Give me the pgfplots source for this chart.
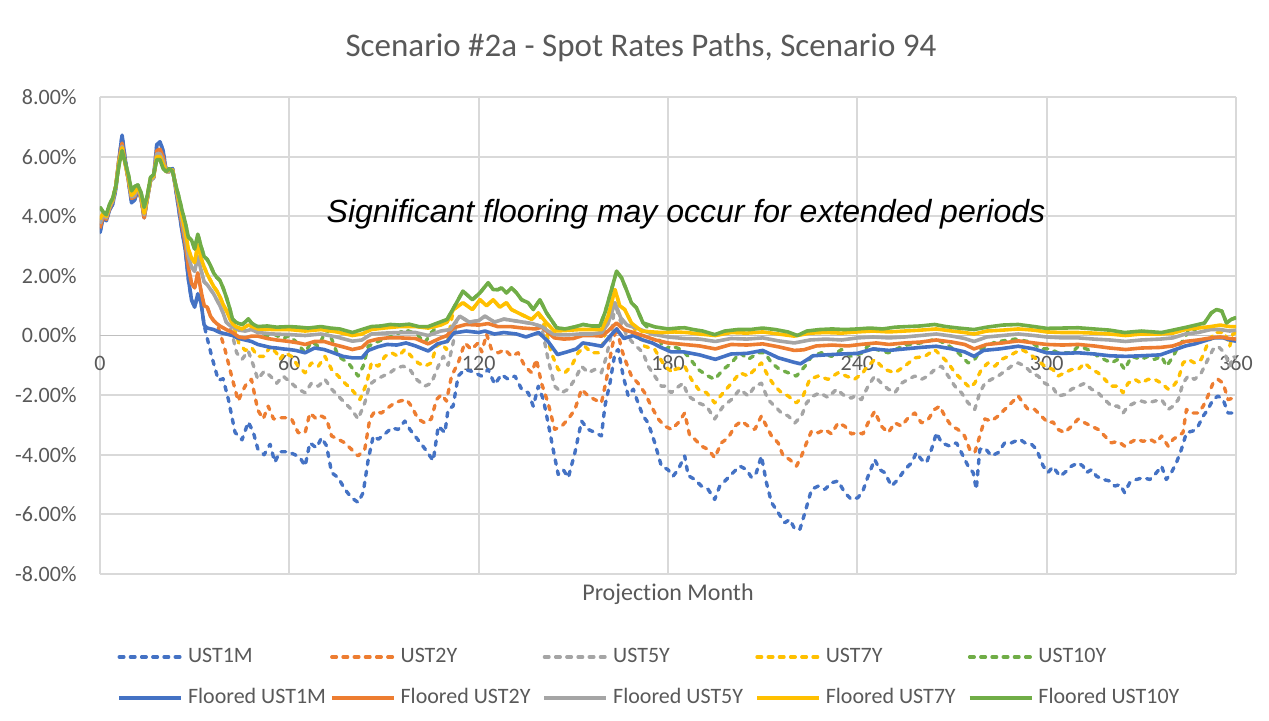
\documentclass[border=0pt]{standalone}
\usepackage{pgfplots}
\pgfplotsset{compat=1.18}
\usepackage{fontspec}
\setmainfont{Carlito}[Ligatures=NoCommon]
\newfontfamily\arialfont{Liberation Sans}
\definecolor{cblue}{HTML}{4472C4}
\definecolor{corange}{HTML}{ED7D31}
\definecolor{cgray}{HTML}{A5A5A5}
\definecolor{cyellow}{HTML}{FFC000}
\definecolor{cgreen}{HTML}{70AD47}
\definecolor{gridc}{HTML}{D9D9D9}
\definecolor{axisc}{HTML}{BFBFBF}
\definecolor{txt}{HTML}{595959}
\pgfplotsset{
  dsh/.style={line width=1.7pt, dash pattern=on 2.3pt off 3.3pt, line cap=round, line join=round},
  sld/.style={line width=1.8pt, line join=round},
}
\newcommand{\legtxt}[1]{\makebox[71pt][l]{#1}}
\begin{document}
\begin{tikzpicture}[x=0.5pt,y=0.5pt]
\useasboundingbox (0,0) rectangle (1269,720);
\begin{axis}[
  at={(50pt,73pt)}, anchor=south west,
  width=568pt, height=238.5pt, scale only axis,
  xmin=0, xmax=360, ymin=-8, ymax=8,
  axis x line=middle, axis y line=left,
  axis line style={-}, x axis line style={draw=axisc, line width=0.9pt},
  y axis line style={draw=none},
  hide obscured x ticks=false, hide obscured y ticks=false,
  grid=major, major grid style={gridc, line width=0.9pt},
  tick style={draw=none},
  xtick={0,60,120,180,240,300,360},
  xticklabels={0,60,120,180,240,300,360},
  ytick={-8,-6,-4,-2,0,2,4,6,8},
  yticklabels={-8.00\%,-6.00\%,-4.00\%,-2.00\%,0.00\%,2.00\%,4.00\%,6.00\%,8.00\%},
  ticklabel style={font=\fontsize{11}{13}\selectfont, text=txt},
  xticklabel style={yshift=-4.5pt},
  yticklabel style={xshift=-6pt},
  legend columns=5,
  legend cell align=left,
  legend style={at={(0.015,-0.155)}, anchor=north west, draw=none, fill=none,
    inner sep=0pt, row sep=11.5pt,
    font=\fontsize{11}{13}\selectfont, text=txt,
    nodes={inner sep=0pt},
    /tikz/every odd column/.append style={column sep=2.5pt}},
  legend image code/.code={\draw[#1] (0pt,0pt) -- (31pt,0pt);},
]
% ---- dashed (unfloored) paths
\addplot[dsh, cblue] coordinates {
(0,3.45) (1,3.95) (2,3.85) (3,4.2) (4,4.4) (5,4.9) (6,5.9) (7,6.72) (8,5.9) (9,5.2) (10,4.45) (11,4.55) (12,4.9) (13,4.6) (14,3.95) (15,4.6) (16,5.2) (17,5.3) (18,6.4) (19,6.5) (20,6.2) (21,5.5) (22,5.5) (23,5.6) (24,4.9) (25,4.2) (26,3.5) (27,2.9) (28,1.9) (29,1.2) (30,0.95) (31,1.4) (32,1.1) (33,0.35)
(34,-0.1) (35.4,-0.7) (37.5,-1.5) (39,-1.45) (40.7,-2.15) (42.8,-3.25) (45,-3.5) (47,-2.9) (48.6,-3.25) (50,-3.8) (52,-4.0) (53.9,-3.65) (55.4,-4.25) (57,-3.9) (59.7,-3.9) (61.8,-4.0) (63.4,-4.1) (65,-4.38) (66.5,-3.6) (68.6,-3.77) (70.2,-3.43) (71.8,-3.7) (73.4,-4.6) (75.5,-4.77) (77.6,-5.16) (79.7,-5.44) (81.8,-5.6) (83.4,-5.27) (85,-4.16) (86.6,-3.37) (88.2,-3.48) (90.3,-3.3) (92.4,-3.1) (94.5,-3.15) (96.6,-2.87) (98.2,-3.15) (99.8,-3.37) (101.9,-3.65) (103.5,-3.88) (105.6,-4.2) (107.2,-3.04) (109.3,-3.26) (110.3,-2.48) (111.9,-2.37) (113.5,-1.36) (115.6,-1.14) (117.7,-1.2) (120.9,-1.36) (123,-1.14) (125.1,-1.64) (127.2,-1.31) (129.4,-1.47) (131.5,-1.36) (133.6,-1.8) (135.7,-1.92) (137.3,-2.37) (138.9,-1.7) (140.5,-2.15) (142,-2.93) (143.6,-3.82) (145.2,-4.66) (146.8,-4.5) (148.4,-4.77) (150.5,-3.93) (152.6,-2.87) (154.7,-3.15) (156.8,-3.25) (158.9,-3.37) (160,-2.37) (161.6,-1.6) (163.2,-0.58) (164.2,-0.47) (165.8,-1.36) (167.4,-2.03) (169,-1.8) (170.5,-2.26) (172.1,-2.7) (173.7,-2.93) (175.8,-3.6) (177.9,-4.38) (180,-4.5) (181.6,-4.72) (183.2,-4.5) (185.3,-4.04) (186.4,-4.7) (188.5,-4.83) (190.6,-5.05) (192.7,-5.16) (194.8,-5.5) (196.4,-5.05) (198.5,-4.83) (200.6,-4.6) (202.8,-4.38) (204.9,-4.5) (206.5,-4.77) (208,-4.6) (209.6,-4.04) (211.2,-4.94) (212.8,-5.6) (214.9,-5.94) (217,-6.28) (218.6,-6.17) (220.2,-6.5) (221.8,-6.5) (223.4,-5.94) (225.5,-5.16) (227.6,-5.05) (229.7,-5.16) (231.8,-4.94) (233.9,-4.88) (236,-5.27) (238.1,-5.5) (240.2,-5.44) (241.8,-5.2) (243.4,-4.72) (245.5,-4.16) (247.1,-4.5) (248.7,-4.6) (250.8,-5.05) (252.9,-4.83) (255,-4.5) (257.2,-4.27) (258.7,-3.93) (260.3,-4.16) (261.9,-4.27) (263.5,-3.82) (265.1,-3.26) (266.7,-3.6) (269.3,-3.71) (271.4,-3.6) (273,-3.93) (275.1,-4.38) (276.7,-4.6) (277.7,-5.16) (278.8,-3.82) (280.4,-3.77) (282.5,-4.04) (284.6,-3.93) (286.7,-3.6) (288.8,-3.6) (291.5,-3.48) (293.1,-3.6) (295.2,-3.65) (296.8,-3.82) (298.9,-4.38) (300.4,-4.6) (302,-4.4) (304.2,-4.72) (305.7,-4.6) (307.9,-4.38) (310,-4.27) (311.5,-4.38) (312.6,-4.6) (314.2,-4.5) (315.8,-4.72) (317.9,-4.83) (320,-4.88) (321.6,-5.05) (323.2,-5.0) (324.7,-5.27) (326.3,-4.94) (328.4,-4.83) (330.6,-4.77) (332.7,-4.83) (334.8,-4.6) (336.4,-4.38) (337.9,-4.83) (339.5,-4.6) (341.1,-4.27) (342.7,-3.82) (344.3,-3.26) (346.4,-3.2) (348,-3.04) (349.6,-2.7) (351.1,-2.48) (352.7,-2.15) (354.3,-2.03) (355.9,-2.15) (357.5,-2.6) (359,-2.6) (360,-2.5)
};
\addlegendentry{\legtxt{UST1M}}
\addplot[dsh, corange] coordinates {
(0,3.6) (1,4.0) (2,3.9) (3,4.25) (4,4.5) (5,5.0) (6,5.9) (7,6.45) (8,5.8) (9,5.2) (10,4.6) (11,4.65) (12,4.95) (13,4.6) (14,3.95) (15,4.6) (16,5.2) (17,5.3) (18,6.2) (19,6.25) (20,6.0) (21,5.5) (22,5.5) (23,5.55) (24,5.0) (25,4.35) (26,3.7) (27,3.1) (28,2.3) (29,1.75) (30,1.6) (31,2.1) (32,1.5) (33,1.0) (34,0.95) (35,0.65) (36,0.5) (37,0.4)
(38,0.1) (39.6,-0.47) (41.7,-1.36) (43.8,-2.2) (45,-1.9) (46.5,-1.6) (48,-1.47) (50,-2.5) (51.7,-2.8) (53.3,-2.37) (55,-2.8) (57,-2.76) (59,-2.76) (60.7,-2.8) (62.8,-3.26) (65,-3.26) (66.5,-2.6) (68.6,-2.8) (70.2,-2.7) (71.8,-2.8) (73.4,-3.37) (75.5,-3.48) (77.6,-3.6) (79.7,-3.82) (81.8,-4.04) (83.9,-3.82) (85.5,-2.8) (87.1,-2.54) (89.2,-2.6) (91.3,-2.42) (93.4,-2.26) (95,-2.2) (97.1,-2.15) (98.7,-2.37) (100.8,-2.8) (102.9,-2.93) (105,-2.8) (106.6,-2.15) (108.2,-1.98) (109.8,-2.2) (111.4,-1.36) (113.5,-0.92) (115.6,-0.25) (117.7,-0.47) (119.8,-0.25) (121,-0.55) (122.5,0.05) (124,-0.45) (126.2,-0.58) (128.3,-0.47) (130.4,-0.7) (132.5,-0.58) (134.6,-1.03) (136.8,-1.25) (138.3,-0.8) (139.9,-1.6) (142,-2.26) (144.1,-3.15) (146.3,-3.04) (148.4,-2.8) (150.5,-2.48) (152.6,-1.8) (154.7,-2.03) (156.8,-2.15) (158.9,-2.26) (160.5,-1.47) (162.1,-0.47) (163.7,0.3) (165.3,-0.47) (166.8,-0.92) (168.4,-1.36) (170.5,-1.6) (172.6,-1.92) (174.7,-2.37) (176.9,-2.8) (179,-3.04) (181.1,-3.15) (183.2,-2.93) (185.3,-2.6) (186.9,-3.37) (188.5,-3.48) (190.6,-3.71) (192.7,-3.82) (194.8,-4.1) (196.9,-3.6) (199.1,-3.43) (201.2,-3.04) (203.3,-2.87) (205.4,-3.04) (207.5,-3.15) (209.6,-2.7) (211.2,-3.04) (212.8,-3.37) (214.9,-3.6) (216.5,-4.04) (218.6,-4.16) (220.7,-4.38) (222.3,-4.04) (223.9,-3.6) (225.5,-3.2) (227.6,-3.26) (229.7,-3.15) (231.8,-3.3) (233.9,-2.93) (236,-3.04) (238.1,-3.3) (240.2,-3.26) (241.8,-3.3) (243.4,-2.93) (245.5,-2.54) (247.6,-3.04) (249.8,-3.26) (251.9,-2.93) (254,-3.04) (256.1,-2.76) (258.2,-2.6) (260.3,-2.93) (262.4,-2.82) (264.5,-2.48) (266.1,-2.37) (267.7,-2.7) (269.8,-3.04) (271.9,-3.15) (274,-3.37) (275.6,-3.82) (277.2,-3.93) (278.8,-3.37) (280.4,-2.8) (282.5,-2.87) (284.6,-2.7) (286.7,-2.48) (288.8,-2.26) (291,-2.03) (292.5,-2.26) (294.1,-2.48) (296.2,-2.48) (298.3,-2.7) (300.4,-2.93) (302,-2.9) (303.6,-3.15) (305.7,-3.26) (307.9,-3.04) (310,-2.8) (312.1,-2.93) (314.2,-3.04) (316.3,-3.15) (318.4,-3.37) (320.5,-3.6) (322.6,-3.55) (324.7,-3.71) (326.3,-3.6) (328.4,-3.48) (330.6,-3.55) (332.7,-3.48) (334.8,-3.6) (336.4,-3.37) (338.5,-3.71) (340.1,-3.48) (341.7,-3.37) (343.2,-3.26) (344.3,-2.48) (345.9,-2.6) (348,-2.6) (349.6,-2.37) (351.1,-2.03) (352.7,-1.6) (354.3,-1.47) (355.9,-1.6) (357.5,-2.15) (359,-2.1) (360,-2.2)
};
\addlegendentry{\legtxt{UST2Y}}
\addplot[dsh, cgray] coordinates {
(0,3.75) (1,4.05) (2,3.95) (3,4.3) (4,4.5) (5,5.0) (6,5.85) (7,6.35) (8,5.75) (9,5.25) (10,4.65) (11,4.7) (12,4.95) (13,4.65) (14,4.05) (15,4.6) (16,5.2) (17,5.3) (18,6.1) (19,6.1) (20,5.85) (21,5.5) (22,5.5) (23,5.55) (24,5.0) (25,4.45) (26,3.85) (27,3.3) (28,2.65) (29,2.3) (30,2.15) (31,2.65) (32,2.2) (33,1.8) (34,1.7) (35,1.55) (36,1.4) (37,1.2) (38,1.0) (39,0.76) (40,0.45) (41,0.35)
(42,0.0) (43.3,-0.58) (45,-0.8) (47,-0.52) (48.6,-1.0) (50,-1.47) (52,-1.2) (54,-1.36) (56,-1.6) (58,-1.36) (60.7,-1.6) (62.8,-1.8) (65,-1.92) (67,-1.6) (69.2,-1.7) (71.3,-1.47) (73.4,-1.8) (75.5,-2.03) (77.6,-2.26) (79.7,-2.48) (81.8,-2.8) (83.9,-2.26) (85.5,-1.64) (87.6,-1.47) (89.7,-1.36) (91.9,-1.25) (94,-1.08) (96.1,-1.03) (98.2,-1.14) (100.3,-1.47) (102.9,-1.7) (105,-1.6) (107.2,-1.03) (108.8,-0.7) (110.3,-1.0) (111.9,-0.25) (113,0.5) (114,0.65) (117,0.45) (120,0.5) (122,0.65) (125,0.45) (128,0.55) (131,0.5) (134,0.45) (137,0.4) (139.9,0.3) (142,-0.8) (144.1,-1.7) (146.3,-1.92) (148.4,-1.8) (150.5,-1.47) (152.6,-1.03) (154.7,-1.25) (156.8,-1.14) (158.9,-1.25) (160.5,-0.7) (162.1,0.1) (163.2,1.1) (164.5,0.6) (166.8,0.03) (168.5,-0.2) (170,-0.36) (172.1,-0.58) (173.7,-1.03) (175.8,-1.36) (177.9,-1.7) (179,-1.7) (181,-1.92) (182.2,-1.8) (184.8,-1.6) (186.4,-2.03) (189.6,-2.26) (192.2,-2.37) (194.8,-2.8) (197.5,-2.37) (200.1,-2.15) (202.8,-1.8) (205.4,-2.03) (207.5,-1.7) (209.6,-1.6) (211.7,-2.15) (213.8,-2.37) (216,-2.6) (218.1,-2.7) (220.2,-2.93) (222.3,-2.7) (223.9,-2.26) (226,-2.03) (228.1,-1.92) (230.7,-2.08) (233.4,-1.8) (236,-2.03) (238.1,-2.1) (239.2,-2.03) (241.3,-2.15) (243.4,-1.7) (245.5,-1.36) (247.6,-1.6) (249.8,-1.8) (251.9,-1.92) (254,-1.6) (256.1,-1.47) (258.2,-1.36) (260.3,-1.47) (262.4,-1.36) (264.5,-1.14) (266.7,-1.03) (268.8,-1.36) (270.9,-1.7) (273,-1.92) (275.1,-2.26) (277.2,-2.48) (278.8,-1.92) (280.4,-1.6) (282.5,-1.47) (284.6,-1.36) (286.7,-1.2) (288.8,-1.03) (291,-0.92) (293.1,-1.03) (295.2,-1.25) (297.3,-1.36) (299.4,-1.6) (302,-1.75) (303.6,-2.03) (305.7,-1.98) (307.9,-1.8) (310,-1.7) (312.1,-1.6) (314.2,-1.8) (316.3,-1.92) (318.4,-2.15) (320.5,-2.37) (322.6,-2.37) (324.2,-2.6) (325.8,-2.37) (327.9,-2.26) (330,-2.2) (332.1,-2.26) (334.2,-2.2) (336.4,-2.15) (338.5,-2.48) (340.1,-2.37) (341.7,-2.15) (343.2,-1.6) (344.8,-1.36) (346.9,-1.47) (349,-1.25) (351.1,-0.8) (352.7,-0.47) (354.3,-0.36) (356.4,-0.58) (358,-1.03) (359,-0.7) (360,-0.75)
};
\addlegendentry{\legtxt{UST5Y}}
\addplot[dsh, cyellow] coordinates {
(0,3.9) (1,4.1) (2,4.0) (3,4.35) (4,4.55) (5,5.0) (6,5.8) (7,6.3) (8,5.75) (9,5.3) (10,4.7) (11,4.8) (12,5.0) (13,4.7) (14,4.1) (15,4.65) (16,5.25) (17,5.35) (18,6.0) (19,6.0) (20,5.75) (21,5.5) (22,5.55) (23,5.55) (24,5.0) (25,4.55) (26,4.0) (27,3.5) (28,2.9) (29,2.6) (30,2.45) (31,3.05) (32,2.6) (33,2.3) (34,2.05) (35,1.85) (36,1.65) (37,1.5) (38,1.3) (39,1.05) (40,0.85) (41,0.6) (42,0.4)
(43,0.1) (44,-0.25) (46,-0.5) (48,-0.4) (50,-0.7) (52,-0.7) (54,-0.36) (56,-0.6) (57,-0.8) (58.6,-0.58) (60.7,-0.7) (62.8,-1.03) (65,-1.25) (67,-0.92) (69.2,-1.03) (71.3,-0.7) (73.4,-1.14) (75.5,-1.36) (77.6,-1.6) (79.7,-1.8) (82.4,-2.15) (84.5,-1.6) (86,-0.92) (88.2,-1.03) (90.3,-0.7) (92.4,-0.58) (94.5,-0.7) (96.6,-0.47) (98.7,-0.7) (100.8,-0.92) (102.9,-1.03) (105,-0.92) (106.6,-0.36) (108.2,-0.25) (109.8,-0.47) (111,0.3) (112,0.87) (115,1.1) (118,0.87) (120.4,1.2) (122.5,1.0) (124.6,1.2) (126.7,0.95) (128.8,1.1) (130.4,0.87) (132.5,0.76) (134.6,0.65) (136.8,0.54) (138.9,0.76) (141,0.3) (143,-0.58) (145.2,-1.14) (147.3,-1.25) (149.4,-1.03) (151.5,-0.58) (153.6,-0.36) (155.8,-0.58) (157.9,-0.58) (159.5,-0.25) (161,0.65) (163.2,1.54) (164.7,1.0) (166.3,0.87) (168.4,0.42) (170,0.1) (172.6,-0.36) (175.8,-0.47) (179,-1.03) (181.6,-1.25) (182.2,-1.14) (185.3,-1.03) (187.4,-1.47) (189.6,-1.8) (192.2,-1.92) (194.8,-2.26) (197.5,-1.92) (200.1,-1.6) (202.8,-1.25) (205.4,-1.36) (207.5,-1.14) (209.6,-0.92) (211.7,-1.36) (213.8,-1.7) (216,-1.92) (218.1,-2.03) (220.7,-2.26) (222.8,-2.03) (224.9,-1.47) (227.6,-1.36) (230.7,-1.47) (233.9,-1.25) (236.5,-1.36) (239.1,-1.47) (241.8,-1.25) (242.4,-1.14) (245.5,-0.8) (248.7,-1.14) (251.9,-1.25) (255,-1.03) (258.2,-0.75) (261.4,-0.7) (264.5,-0.47) (266.7,-0.7) (268.8,-0.92) (270.9,-1.25) (273,-1.47) (275.6,-1.75) (277.2,-1.6) (279.3,-1.14) (281.4,-0.92) (283.6,-1.03) (285.7,-0.8) (287.8,-0.7) (289.9,-0.58) (292,-0.47) (294.1,-0.58) (296.8,-0.8) (299.4,-1.03) (302,-1.14) (303.6,-1.36) (305.7,-1.25) (307.9,-1.14) (310,-1.14) (312.1,-0.92) (314.2,-1.14) (316.3,-1.25) (318.4,-1.47) (320.5,-1.7) (322.6,-1.7) (324.2,-1.92) (325.8,-1.6) (327.9,-1.47) (330,-1.6) (332.1,-1.47) (334.2,-1.47) (336.4,-1.6) (338.5,-1.8) (340.1,-1.7) (341.7,-1.47) (343.2,-0.92) (344.8,-0.8) (346.9,-0.92) (349,-0.8) (351.1,-0.25) (353.2,0.1) (356.4,0.1) (358,-0.36) (359,0.05) (360,0.1)
};
\addlegendentry{\legtxt{UST7Y}}
\addplot[dsh, cgreen] coordinates {
(0,4.3) (1,4.15) (2,4.05) (3,4.4) (4,4.6) (5,5.0) (6,5.7) (7,6.2) (8,5.8) (9,5.4) (10,4.85) (11,5.0) (12,5.05) (13,4.8) (14,4.3) (15,4.7) (16,5.3) (17,5.4) (18,5.9) (19,5.9) (20,5.6) (21,5.5) (22,5.6) (23,5.5) (24,5.05) (25,4.65) (26,4.2) (27,3.8) (28,3.3) (29,3.2) (30,2.9) (31,3.4) (32,3.0) (33,2.65) (34,2.55) (35,2.35) (36,2.1) (37,1.95) (38,1.85) (39,1.6) (40,1.3) (41,0.95) (42,0.55) (43,0.45) (44,0.4) (45,0.37) (46,0.45) (47,0.56) (48,0.42) (49,0.35)
(50,0.1) (52,-0.05) (55,0.05) (58,-0.1) (60,0.0) (62,-0.2) (65,-0.58) (67,-0.2) (69.2,-0.36) (71.8,0.2) (73,0.0) (75.5,-0.7) (78.7,-0.92) (81.8,-1.36) (83.4,-1.03) (85,-0.36) (87.1,-0.25) (90.3,-0.1) (93.4,0.0) (96.6,0.2) (99,0.1) (100.8,0.0) (102.9,-0.25) (105,0.1) (107,0.3) (110,0.54) (113,1.1) (115,1.49) (118,1.2) (120.4,1.43) (123,1.77) (124.6,1.54) (126.2,1.54) (127.2,1.6) (128.8,1.43) (130.4,1.6) (132,1.43) (133.6,1.2) (135.7,1.1) (137.3,0.87) (139.4,1.2) (141.5,0.76) (144.7,0.26) (147.3,0.22) (150.5,0.29) (153.1,0.37) (155.8,0.32) (158.4,0.32) (160,0.76) (162.1,1.54) (163.7,2.16) (165.3,1.93) (166.8,1.54) (168.4,1.1) (170,0.93) (172.1,0.42) (175,0.1) (177,-0.1) (179,-0.47) (181,-0.35) (184.3,-0.47) (186.4,-0.7) (189.6,-1.14) (192.7,-1.36) (194.8,-1.47) (197.5,-1.14) (200.1,-0.92) (202.8,-0.58) (205.4,-0.8) (208.6,-0.58) (210.7,-0.58) (212.8,-0.92) (215.4,-1.14) (218.1,-1.25) (220.7,-1.36) (223.4,-1.03) (225.5,-0.7) (228.6,-0.58) (231.8,-0.7) (235,-0.47) (238.1,-0.7) (241.8,-0.58) (243.4,-0.33) (245.5,-0.45) (249.8,-0.58) (255,-0.33) (260,-0.25) (265,-0.12) (268.8,-0.33) (272,-0.58) (275.1,-0.92) (277.2,-0.8) (279.3,-0.45) (283.6,-0.22) (290,-0.12) (295,-0.22) (298.2,-0.45) (301,-0.45) (303.6,-0.58) (307.9,-0.58) (310,-0.36) (313.1,-0.47) (316.3,-0.7) (320.5,-0.92) (322.6,-0.8) (324.7,-1.14) (326.9,-0.7) (330,-0.8) (332.1,-0.7) (334.2,-0.8) (336.4,-0.7) (338,-1.03) (340.1,-0.7) (341.7,-0.36) (343.8,-0.1) (345,0.2) (347,0.2) (350,0.42) (352.2,0.76) (353.8,0.87) (355.5,0.82) (357,0.42) (358.5,0.54) (360,0.6)
};
\addlegendentry{\legtxt{UST10Y}}
% ---- floored paths
\addplot[sld, cblue] coordinates {
(0,3.45) (1,3.95) (2,3.85) (3,4.2) (4,4.4) (5,4.9) (6,5.9) (7,6.72) (8,5.9) (9,5.2) (10,4.45) (11,4.55) (12,4.9) (13,4.6) (14,3.95) (15,4.6) (16,5.2) (17,5.3) (18,6.4) (19,6.5) (20,6.2) (21,5.5) (22,5.5) (23,5.6) (24,4.9) (25,4.2) (26,3.5) (27,2.9) (28,1.9) (29,1.2) (30,0.95) (31,1.4) (32,1.1) (33,0.35)
(34,0.25) (36,0.2) (38,0.1) (40,0.05) (42,0.0) (44,-0.1) (46,-0.15) (48,-0.2) (50,-0.3) (52,-0.35) (54,-0.4) (56,-0.42) (58,-0.45) (60,-0.47) (62,-0.5) (65,-0.58) (68,-0.42) (71,-0.47) (74,-0.58) (77,-0.7) (80,-0.75) (83,-0.75) (85,-0.5) (88,-0.38) (91,-0.3) (94,-0.32) (97,-0.25) (100,-0.35) (104,-0.52) (107,-0.28) (110,-0.2) (112,0.08) (116,0.15) (120,0.1) (122,0.15) (125,0.05) (128,0.1) (132,0.05) (135,-0.05) (139,0.1) (142,-0.2) (145,-0.64) (148,-0.55) (151,-0.45) (153,-0.25) (156,-0.3) (159,-0.36) (161,-0.1) (163.7,0.22) (166,-0.1) (169,0.0) (172,-0.15) (175,-0.25) (178,-0.41) (181,-0.55) (185,-0.55) (190,-0.65) (195,-0.8) (200,-0.62) (205,-0.6) (210,-0.5) (215,-0.75) (220,-0.9) (222,-0.95) (226,-0.68) (230,-0.65) (235,-0.62) (240,-0.6) (245,-0.45) (250,-0.5) (255,-0.45) (260,-0.4) (265,-0.36) (270,-0.45) (274,-0.55) (277,-0.7) (280,-0.5) (285,-0.45) (291,-0.36) (296,-0.45) (300,-0.58) (305,-0.6) (310,-0.58) (315,-0.62) (320,-0.68) (325,-0.7) (330,-0.68) (336,-0.65) (340,-0.5) (344,-0.35) (347,-0.28) (350,-0.18) (353,-0.08) (356,-0.08) (358,-0.15) (360,-0.19)
};
\addlegendentry{\legtxt{Floored UST1M}}
\addplot[sld, corange] coordinates {
(0,3.6) (1,4.0) (2,3.9) (3,4.25) (4,4.5) (5,5.0) (6,5.9) (7,6.45) (8,5.8) (9,5.2) (10,4.6) (11,4.65) (12,4.95) (13,4.6) (14,3.95) (15,4.6) (16,5.2) (17,5.3) (18,6.2) (19,6.25) (20,6.0) (21,5.5) (22,5.5) (23,5.55) (24,5.0) (25,4.35) (26,3.7) (27,3.1) (28,2.3) (29,1.75) (30,1.6) (31,2.1) (32,1.5) (33,1.0) (34,0.95) (35,0.65) (36,0.5) (37,0.4)
(38,0.32) (40,0.2) (42,0.1) (44,-0.05) (46,-0.08) (48,-0.02) (50,-0.02) (53,-0.1) (56,-0.15) (60,-0.2) (63,-0.25) (65,-0.3) (68,-0.2) (71,-0.2) (74,-0.3) (77,-0.38) (80,-0.47) (83,-0.4) (85,-0.2) (88,-0.12) (91,-0.08) (95,-0.08) (100,-0.1) (104,-0.28) (108,-0.08) (110,0.0) (112,0.26) (116,0.37) (120,0.35) (123,0.4) (126,0.3) (130,0.3) (134,0.25) (138,0.22) (140,0.28) (142,0.1) (144,-0.08) (147,-0.12) (150,-0.1) (153,0.0) (156,0.0) (159,-0.02) (161,0.15) (163.7,0.42) (166,0.2) (169,0.1) (172,0.0) (176,-0.15) (180,-0.25) (185,-0.3) (190,-0.35) (195,-0.45) (200,-0.3) (205,-0.32) (210,-0.28) (215,-0.38) (220,-0.5) (223,-0.48) (227,-0.35) (232,-0.32) (237,-0.35) (241,-0.3) (246,-0.25) (250,-0.3) (255,-0.25) (260,-0.22) (265,-0.15) (270,-0.22) (274,-0.3) (277,-0.45) (281,-0.3) (286,-0.25) (291,-0.18) (296,-0.25) (300,-0.3) (305,-0.32) (310,-0.3) (315,-0.35) (320,-0.42) (325,-0.47) (330,-0.42) (336,-0.4) (340,-0.35) (344,-0.2) (348,-0.15) (352,-0.08) (355,-0.05) (358,-0.1) (360,-0.12)
};
\addlegendentry{\legtxt{Floored UST2Y}}
\addplot[sld, cgray] coordinates {
(0,3.75) (1,4.05) (2,3.95) (3,4.3) (4,4.5) (5,5.0) (6,5.85) (7,6.35) (8,5.75) (9,5.25) (10,4.65) (11,4.7) (12,4.95) (13,4.65) (14,4.05) (15,4.6) (16,5.2) (17,5.3) (18,6.1) (19,6.1) (20,5.85) (21,5.5) (22,5.5) (23,5.55) (24,5.0) (25,4.45) (26,3.85) (27,3.3) (28,2.65) (29,2.3) (30,2.15) (31,2.65) (32,2.2) (33,1.8) (34,1.7) (35,1.55) (36,1.4) (37,1.2) (38,1.0) (39,0.76) (40,0.45) (41,0.35)
(42,0.3) (44,0.18) (46,0.15) (48,0.2) (50,0.1) (55,0.05) (60,0.03) (65,0.0) (70,0.05) (75,-0.05) (80,-0.19) (83,-0.15) (86,0.05) (90,0.08) (95,0.1) (100,0.1) (104,0.0) (108,0.15) (111,0.2) (113,0.5) (114,0.65) (117,0.45) (120,0.5) (122,0.65) (125,0.45) (128,0.55) (131,0.5) (134,0.45) (137,0.4) (140,0.3) (142,0.15) (144,0.03) (148,0.02) (152,0.05) (156,0.05) (159,0.1) (161,0.4) (163.2,1.1) (165,0.6) (167,0.35) (170,0.25) (175,0.05) (180,-0.05) (185,-0.1) (190,-0.12) (195,-0.2) (200,-0.1) (205,-0.12) (210,-0.08) (215,-0.18) (220,-0.25) (225,-0.15) (230,-0.12) (235,-0.15) (240,-0.08) (245,-0.05) (250,-0.08) (255,-0.05) (260,0.0) (265,0.05) (270,-0.02) (274,-0.1) (277,-0.2) (281,-0.05) (286,0.0) (291,0.05) (296,0.0) (300,-0.05) (305,-0.08) (310,-0.08) (315,-0.12) (320,-0.15) (325,-0.2) (330,-0.15) (336,-0.12) (340,-0.08) (344,0.05) (348,0.1) (352,0.2) (355,0.2) (358,0.15) (360,0.18)
};
\addlegendentry{\legtxt{Floored UST5Y}}
\addplot[sld, cyellow] coordinates {
(0,3.9) (1,4.1) (2,4.0) (3,4.35) (4,4.55) (5,5.0) (6,5.8) (7,6.3) (8,5.75) (9,5.3) (10,4.7) (11,4.8) (12,5.0) (13,4.7) (14,4.1) (15,4.65) (16,5.25) (17,5.35) (18,6.0) (19,6.0) (20,5.75) (21,5.5) (22,5.55) (23,5.55) (24,5.0) (25,4.55) (26,4.0) (27,3.5) (28,2.9) (29,2.6) (30,2.45) (31,3.05) (32,2.6) (33,2.3) (34,2.05) (35,1.85) (36,1.65) (37,1.5) (38,1.3) (39,1.05) (40,0.85) (41,0.6) (42,0.4)
(43,0.3) (45,0.22) (47,0.35) (50,0.22) (55,0.2) (60,0.2) (65,0.15) (70,0.2) (75,0.12) (80,0.0) (83,0.05) (86,0.2) (90,0.25) (95,0.3) (100,0.3) (104,0.25) (108,0.35) (110,0.45) (112,0.87) (115,1.1) (118,0.87) (120.4,1.2) (122.5,1.0) (124.6,1.2) (126.7,0.95) (128.8,1.1) (130.4,0.87) (132.5,0.76) (134.6,0.65) (136.8,0.54) (138.9,0.76) (141.5,0.42) (144,0.15) (148,0.17) (152,0.2) (156,0.2) (159,0.2) (161,0.65) (163.2,1.54) (164.7,1.0) (166.3,0.87) (168.4,0.42) (171.6,0.15) (175,0.12) (178,0.1) (182,0.12) (186,0.1) (190,0.05) (195,0.0) (200,0.1) (205,0.08) (210,0.12) (215,0.05) (220,-0.02) (225,0.08) (230,0.1) (235,0.08) (240,0.12) (245,0.15) (250,0.12) (255,0.15) (260,0.18) (265,0.22) (270,0.15) (274,0.1) (277,0.05) (281,0.15) (286,0.18) (291,0.22) (296,0.18) (300,0.12) (305,0.1) (310,0.1) (315,0.08) (320,0.05) (325,0.0) (330,0.05) (336,0.05) (340,0.08) (344,0.2) (348,0.25) (352,0.3) (355,0.35) (358,0.3) (360,0.3)
};
\addlegendentry{\legtxt{Floored UST7Y}}
\addplot[sld, cgreen] coordinates {
(0,4.3) (1,4.15) (2,4.05) (3,4.4) (4,4.6) (5,5.0) (6,5.7) (7,6.2) (8,5.8) (9,5.4) (10,4.85) (11,5.0) (12,5.05) (13,4.8) (14,4.3) (15,4.7) (16,5.3) (17,5.4) (18,5.9) (19,5.9) (20,5.6) (21,5.5) (22,5.6) (23,5.5) (24,5.05) (25,4.65) (26,4.2) (27,3.8) (28,3.3) (29,3.2) (30,2.9) (31,3.4) (32,3.0) (33,2.65) (34,2.55) (35,2.35) (36,2.1) (37,1.95) (38,1.85) (39,1.6) (40,1.3) (41,0.95) (42,0.55) (43,0.45) (44,0.4) (45,0.37) (46,0.45) (47,0.56) (48,0.42) (49,0.35)
(50,0.3) (53,0.32) (56,0.28) (60,0.3) (63,0.28) (66,0.25) (70,0.3) (73,0.25) (76,0.22) (80,0.1) (83,0.2) (86,0.3) (89,0.32) (92,0.37) (95,0.35) (98,0.38) (101,0.3) (104,0.3) (107,0.42) (110,0.54) (113,1.1) (115,1.49) (118,1.2) (120.4,1.43) (123,1.77) (124.6,1.54) (126.2,1.54) (127.2,1.6) (128.8,1.43) (130.4,1.6) (132,1.43) (133.6,1.2) (135.7,1.1) (137.3,0.87) (139.4,1.2) (141.5,0.76) (144.7,0.26) (147.3,0.22) (150.5,0.29) (153.1,0.37) (155.8,0.32) (158.4,0.32) (160,0.76) (162.1,1.54) (163.7,2.16) (165.3,1.93) (166.8,1.54) (168.4,1.1) (170,0.93) (172.1,0.42) (175.8,0.29) (180,0.22) (183,0.25) (185.3,0.26) (188,0.2) (191,0.15) (194.8,0.03) (198,0.15) (202,0.2) (206,0.2) (210,0.25) (214,0.2) (218,0.12) (221,0.0) (224,0.15) (228,0.2) (232,0.22) (236,0.2) (240,0.22) (244,0.25) (248,0.22) (252,0.28) (256,0.3) (260,0.32) (264.5,0.37) (268,0.3) (272,0.25) (277,0.2) (281,0.28) (286,0.35) (291,0.37) (296,0.3) (300,0.24) (305,0.25) (310,0.26) (315,0.22) (320,0.18) (324.7,0.1) (330,0.15) (336.4,0.1) (340,0.18) (344.8,0.29) (350,0.42) (352.2,0.76) (353.8,0.87) (355.5,0.82) (357,0.42) (358.5,0.54) (360,0.6)
};
\addlegendentry{\legtxt{Floored UST10Y}}
\end{axis}
\node[font=\fontsize{16.5}{20}\selectfont, text=txt] at (641,672) {Scenario \#2a - Spot Rates Paths, Scenario 94};
\node[font=\arialfont\itshape\fontsize{16}{19}\selectfont] at (686,506) {Significant flooring may occur for extended periods};
\node[font=\fontsize{12}{14}\selectfont, text=txt] at (668,126) {Projection Month};
\end{tikzpicture}
\end{document}
